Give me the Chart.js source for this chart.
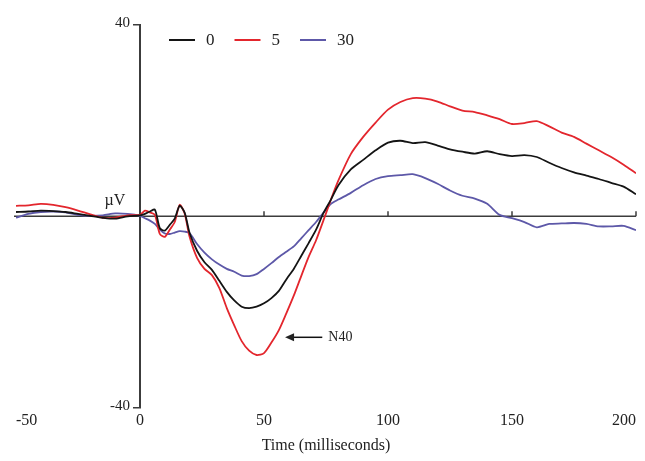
<!DOCTYPE html>
<html>
<head>
<meta charset="utf-8">
<script src="https://cdn.jsdelivr.net/npm/chart.js@4"></script>
<style>
  body { margin: 0; background: #fff; }
</style>
</head>
<body>
<canvas id="erp-chart" width="645" height="461"></canvas>
<script>
// time in ms, amplitude in µV
const times = [-50, -45, -40, -35, -30, -25, -20, -15, -10, -5, 0,
  2, 4, 6, 8, 10, 12, 14, 16, 18, 20,
  23, 26, 29, 32, 35, 38, 41, 44, 47, 50, 53, 56, 59, 62, 65, 68, 71, 74, 77, 80,
  85, 90, 95, 100, 105, 110, 115, 120, 125, 130, 135, 140, 145, 150, 155, 160, 165, 170, 175, 180, 185, 190, 195, 200];

const dose0 = [0.9, 1.0, 1.2, 1.1, 0.9, 0.5, 0.1, -0.3, -0.5, 0.0, 0.2,
  0.5, 1.0, 1.4, -2.5, -3.0, -1.8, -0.5, 2.2, 0.8, -3.5,
  -7.2, -9.6, -11.2, -13.5, -15.8, -17.6, -18.9, -19.2, -18.9, -18.2, -17.1, -15.6, -13.2, -11.0, -8.3, -5.6, -2.8, 0.7, 3.5, 6.5,
  9.8, 11.8, 13.8, 15.4, 15.8, 15.3, 15.5, 14.8, 14.0, 13.5, 13.1, 13.6, 13.0, 12.6, 12.8, 12.4, 11.2, 10.1, 9.2, 8.5, 7.8, 7.0, 6.2, 4.6];

const dose5 = [2.2, 2.3, 2.6, 2.4, 1.9, 1.2, 0.4, -0.3, -0.3, 0.2, 0.3,
  1.2, 0.8, 0.3, -3.7, -4.3, -2.8, -1.2, 2.4, 0.6, -4.3,
  -8.7, -11.0, -12.3, -15.0, -19.2, -22.8, -26.1, -28.1, -29.0, -28.6, -26.4, -23.8, -20.3, -16.6, -12.5, -8.5, -5.0, -0.8, 3.5, 7.5,
  13.0, 16.6, 19.6, 22.3, 23.9, 24.7, 24.6, 24.0, 23.0, 22.1, 21.8, 21.1, 20.3, 19.3, 19.5, 19.9, 18.8, 17.5, 16.6, 15.2, 13.8, 12.4, 10.8, 9.0];

const dose30 = [-0.3, 0.5, 0.9, 1.0, 0.8, 0.3, 0.1, 0.2, 0.6, 0.5, 0.1,
  -0.4, -0.9, -1.6, -2.8, -3.6, -3.7, -3.4, -3.1, -3.2, -3.5,
  -5.8, -7.6, -9.0, -10.1, -11.0, -11.6, -12.4, -12.5, -12.1, -11.0, -9.8, -8.5, -7.4, -6.3, -4.6, -2.9, -1.2, 0.8, 2.6, 3.5,
  4.9, 6.5, 7.8, 8.4, 8.6, 8.8, 8.0, 6.8, 5.4, 4.3, 3.7, 2.6, 0.3, -0.4, -1.2, -2.3, -1.6, -1.5, -1.4, -1.6, -2.1, -2.1, -2.0, -2.9];

const seriesLabels = ['0', '5', '30'];
const xTicks = [-50, 0, 50, 100, 150, 200];
const yTicks = [-40, 40];

const serif = "'Liberation Serif', 'Times New Roman', serif";
const toPoints = vals => times.map((t, i) => ({ x: t, y: vals[i] }));

// zero line, y labels, µV label, N40 arrow and the legend
const erpExtras = {
  id: 'erpExtras',
  beforeDatasetsDraw(chart) {
    const { ctx, scales: { x, y } } = chart;
    const y0 = y.getPixelForValue(0);
    ctx.save();
    ctx.strokeStyle = '#3c3c3c';
    ctx.lineWidth = 1.5;
    ctx.beginPath();
    ctx.moveTo(x.left - 2, y0);
    ctx.lineTo(x.right, y0);
    xTicks.filter(v => v > 0).forEach(v => {
      const px = x.getPixelForValue(v);
      ctx.moveTo(px, y0);
      ctx.lineTo(px, y0 - 5);
    });
    ctx.stroke();

    ctx.fillStyle = '#222';
    ctx.font = '15px ' + serif;
    ctx.textAlign = 'right';
    ctx.textBaseline = 'middle';
    yTicks.forEach(v => {
      ctx.fillText(String(v), x.getPixelForValue(0) - 10, y.getPixelForValue(v) - 2);
    });
    ctx.restore();
  },
  afterDatasetsDraw(chart) {
    const { ctx, chartArea, scales: { x, y } } = chart;
    ctx.save();
    ctx.fillStyle = '#222';
    ctx.font = '16px ' + serif;
    ctx.textBaseline = 'middle';
    ctx.textAlign = 'center';
    ctx.fillText('µV', x.getPixelForValue(0) - 25, y.getPixelForValue(0) - 16);

    // N40 arrow
    const tipX = x.getPixelForValue(58.5), tipY = y.getPixelForValue(-25.3);
    const endX = x.getPixelForValue(73.5);
    ctx.strokeStyle = '#111';
    ctx.lineWidth = 1.5;
    ctx.beginPath();
    ctx.moveTo(tipX + 6, tipY);
    ctx.lineTo(endX, tipY);
    ctx.stroke();
    ctx.beginPath();
    ctx.moveTo(tipX, tipY);
    ctx.lineTo(tipX + 9, tipY - 4);
    ctx.lineTo(tipX + 9, tipY + 4);
    ctx.closePath();
    ctx.fill();
    ctx.textAlign = 'left';
    ctx.font = '14px ' + serif;
    ctx.fillText('N40', endX + 6, tipY);

    // legend
    let lx = chartArea.left + 153;
    const ly = chartArea.top + 15;
    ctx.font = '17px ' + serif;
    chart.data.datasets.forEach(ds => {
      ctx.strokeStyle = ds.borderColor;
      ctx.lineWidth = 2;
      ctx.beginPath();
      ctx.moveTo(lx, ly);
      ctx.lineTo(lx + 26, ly);
      ctx.stroke();
      ctx.fillStyle = '#222';
      ctx.fillText(ds.label, lx + 37, ly + 1);
      lx += 37 + ctx.measureText(ds.label).width + 20;
    });
    ctx.restore();
  }
};

new Chart(document.getElementById('erp-chart'), {
  type: 'line',
  data: {
    datasets: [
      { label: seriesLabels[0], data: toPoints(dose0), borderColor: '#141414' },
      { label: seriesLabels[1], data: toPoints(dose5), borderColor: '#e3262d' },
      { label: seriesLabels[2], data: toPoints(dose30), borderColor: '#5d58a8' }
    ]
  },
  options: {
    responsive: false,
    animation: false,
    layout: { padding: { left: 16, right: 9, top: 25, bottom: 2 } },
    elements: {
      point: { radius: 0 },
      line: { borderWidth: 1.8, tension: 0.25 }
    },
    plugins: {
      legend: { display: false },
      tooltip: { enabled: false }
    },
    scales: {
      x: {
        type: 'linear',
        min: -50,
        max: 200,
        afterBuildTicks: s => { s.ticks = xTicks.map(v => ({ value: v })); },
        afterFit: s => { s.paddingLeft = 0; s.paddingRight = 0; },
        grid: { display: false, drawTicks: false },
        border: { display: false },
        ticks: { align: 'inner', padding: 4, color: '#222', font: { family: serif, size: 16 } },
        title: {
          display: true,
          text: 'Time (milliseconds)',
          color: '#222',
          font: { family: serif, size: 16 },
          padding: { top: 1, bottom: 4 }
        }
      },
      y: {
        min: -40,
        max: 40,
        position: { x: 0 },
        afterBuildTicks: s => { s.ticks = yTicks.map(v => ({ value: v })); },
        afterFit: s => { s.paddingTop = 0; s.paddingBottom = 0; },
        grid: { drawOnChartArea: false, tickLength: 6, color: '#3c3c3c', lineWidth: 1.5 },
        border: { color: '#3c3c3c', width: 2 },
        ticks: { display: false }
      }
    }
  },
  plugins: [erpExtras]
});
</script>
</body>
</html>
